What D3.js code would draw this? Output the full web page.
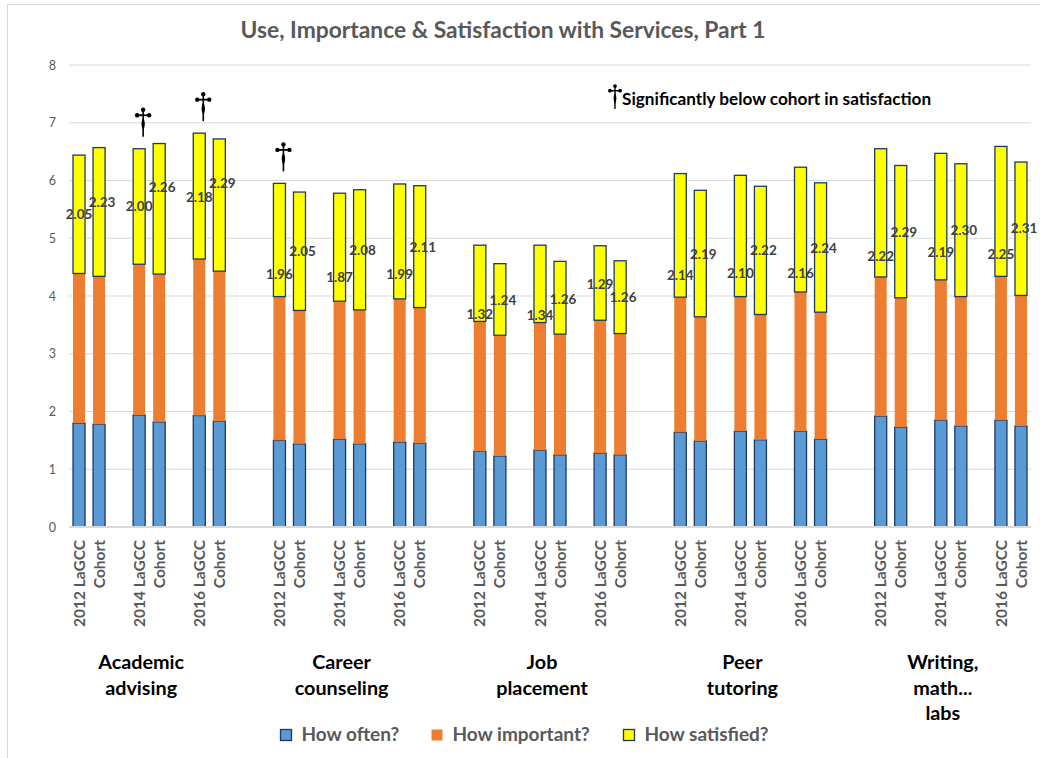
<!DOCTYPE html>
<html>
<head>
<meta charset="utf-8">
<script src="https://cdn.jsdelivr.net/npm/d3@7"></script>
<style>
  body { margin: 0; background: #fff; }
  text { font-family: Lato, "Open Sans", sans-serif; }
</style>
</head>
<body>
<div id="chart"></div>
<script>
const width = 1040;
const height = 758;

// categories
const groupLines = [
  ["Academic", "advising"],
  ["Career", "counseling"],
  ["Job", "placement"],
  ["Peer", "tutoring"],
  ["Writing,", "math...", "labs"],
];
const years = ["2012", "2014", "2016"];
const seriesNames = ["How often?", "How important?", "How satisfied?"];
const yTicks = [0, 1, 2, 3, 4, 5, 6, 7, 8];

// per bar, in order: 2012 LaGCC, Cohort, 2014 LaGCC, Cohort, 2016 LaGCC, Cohort
const howOften = [
  1.80, 1.78, 1.94, 1.82, 1.93, 1.83,
  1.50, 1.44, 1.52, 1.44, 1.47, 1.45,
  1.31, 1.23, 1.33, 1.25, 1.28, 1.25,
  1.64, 1.49, 1.66, 1.51, 1.66, 1.52,
  1.92, 1.73, 1.85, 1.75, 1.85, 1.75,
];
const howImportant = [
  2.59, 2.56, 2.61, 2.56, 2.71, 2.60,
  2.49, 2.31, 2.39, 2.32, 2.48, 2.35,
  2.25, 2.09, 2.21, 2.09, 2.30, 2.10,
  2.34, 2.15, 2.33, 2.17, 2.41, 2.20,
  2.41, 2.24, 2.43, 2.24, 2.49, 2.26,
];
const howSatisfied = [
  2.05, 2.23, 2.00, 2.26, 2.18, 2.29,
  1.96, 2.05, 1.87, 2.08, 1.99, 2.11,
  1.32, 1.24, 1.34, 1.26, 1.29, 1.26,
  2.14, 2.19, 2.10, 2.22, 2.16, 2.24,
  2.22, 2.29, 2.19, 2.30, 2.25, 2.31,
];
// where each satisfaction label sits on the value axis
const satLabelAt = [
  5.41, 5.63, 5.55, 5.88, 5.71, 5.95,
  4.38, 4.77, 4.33, 4.79, 4.38, 4.85,
  3.68, 3.93, 3.66, 3.95, 4.20, 3.97,
  4.36, 4.73, 4.39, 4.80, 4.39, 4.83,
  4.68, 5.10, 4.76, 5.14, 4.73, 5.17,
];
// bars significantly below cohort in satisfaction
const belowCohort = [2, 4, 6];

const colors = ["#5b9bd5", "#ed7d31", "#ffff00"];
const strokes = ["#1f3864", "none", "#1f3864"];

const rows = howOften.map((v, i) => ({
  i,
  group: Math.floor(i / 6),
  year: Math.floor((i % 6) / 2),
  cohort: i % 2 === 1,
  often: v,
  important: howImportant[i],
  satisfied: howSatisfied[i],
}));
rows.forEach((d) => {
  d.slot = d.group * 10 + d.year * 3 + (d.cohort ? 1 : 0);
  d.label = d.cohort ? "Cohort" : `${years[d.year]} LaGCC`;
});

const svg = d3
  .select("#chart")
  .append("svg")
  .attr("width", width)
  .attr("height", height);

// chart frame
svg
  .append("rect")
  .attr("x", 7.5)
  .attr("y", 4.5)
  .attr("width", 1040)
  .attr("height", 770)
  .attr("fill", "#fff")
  .attr("stroke", "#d9d9d9");

const x = d3
  .scaleBand()
  .domain(d3.range(48))
  .range([69, 1031])
  .paddingInner(0.4)
  .paddingOuter(0.2);

const y = d3.scaleLinear().domain([0, 8]).range([527, 65]);

// title
svg
  .append("text")
  .attr("x", 503)
  .attr("y", 37.5)
  .attr("text-anchor", "middle")
  .attr("font-size", 22.8)
  .attr("font-weight", "bold")
  .attr("fill", "#595959")
  .text("Use, Importance & Satisfaction with Services, Part 1");

// gridlines
svg
  .append("g")
  .selectAll("line")
  .data(yTicks.filter((t) => t > 0))
  .join("line")
  .attr("x1", 69)
  .attr("x2", 1031)
  .attr("y1", (d) => y(d))
  .attr("y2", (d) => y(d))
  .attr("stroke", "#d9d9d9")
  .attr("stroke-width", 1);

// y axis
const yAxis = svg
  .append("g")
  .attr("transform", "translate(69,0)")
  .call(d3.axisLeft(y).tickValues(yTicks).tickSize(0).tickPadding(13));
yAxis.select(".domain").remove();
yAxis
  .selectAll("text")
  .attr("font-size", 12.5)
  .attr("fill", "#595959")
  .style("font-family", "Lato, sans-serif");

// stacked bars
const stack = d3.stack().keys(["often", "important", "satisfied"]);
const layers = stack(rows);

svg
  .append("g")
  .selectAll("g")
  .data(layers)
  .join("g")
  .attr("fill", (d, k) => colors[k])
  .attr("stroke", (d, k) => strokes[k])
  .attr("stroke-width", 1.3)
  .selectAll("rect")
  .data((d) => d)
  .join("rect")
  .attr("x", (d) => x(d.data.slot))
  .attr("width", x.bandwidth())
  .attr("y", (d) => y(d[1]))
  .attr("height", (d) => y(d[0]) - y(d[1]));

// zero axis line
svg
  .append("line")
  .attr("x1", 69)
  .attr("x2", 1031)
  .attr("y1", y(0))
  .attr("y2", y(0))
  .attr("stroke", "#d9d9d9")
  .attr("stroke-width", 1.8);

// satisfaction labels
svg
  .append("g")
  .selectAll("text")
  .data(rows)
  .join("text")
  .attr("x", (d) => x(d.slot) + x.bandwidth() / 2 + (d.cohort ? 3 : 0))
  .attr("y", (d) => y(satLabelAt[d.i]))
  .attr("dy", "0.35em")
  .attr("text-anchor", "middle")
  .attr("font-size", 13.5)
  .attr("font-weight", "bold")
  .attr("fill", "#404040")
  .text((d) => d.satisfied.toFixed(2));

// dagger marker
function dagger(sel, s) {
  const g = sel.append("g").attr("transform", `scale(${s})`);
  g.append("line")
    .attr("x1", 0).attr("x2", 0).attr("y1", -27).attr("y2", 0)
    .attr("stroke", "#000").attr("stroke-width", 1.6);
  g.append("line")
    .attr("x1", -6).attr("x2", 6).attr("y1", -21.5).attr("y2", -21.5)
    .attr("stroke", "#000").attr("stroke-width", 1.8);
  g.selectAll("circle")
    .data([[0, -27], [-6, -21.5], [6, -21.5]])
    .join("circle")
    .attr("cx", (d) => d[0]).attr("cy", (d) => d[1]).attr("r", 2.2)
    .attr("fill", "#000");
  g.append("path")
    .attr("d", "M0,-19 Q3.4,-13 0,-6 Q-3.4,-13 0,-19 Z")
    .attr("fill", "#000");
}

belowCohort.forEach((i) => {
  const d = rows[i];
  const top = d.often + d.important + d.satisfied;
  svg
    .append("g")
    .attr("transform", `translate(${x(d.slot) + x.bandwidth() / 2 + 4},${y(top) - 12})`)
    .call(dagger, 1);
});

// note
const note = svg.append("g").attr("transform", "translate(615,109)");
note.call(dagger, 0.85);
note
  .append("text")
  .attr("x", 7)
  .attr("y", -4)
  .attr("font-size", 17.2)
  .attr("font-weight", "bold")
  .attr("fill", "#000")
  .text("Significantly below cohort in satisfaction");

// bar tick labels
svg
  .append("g")
  .selectAll("text")
  .data(rows)
  .join("text")
  .attr("transform", (d) => `translate(${x(d.slot) + x.bandwidth() / 2},540) rotate(-90)`)
  .attr("dy", "0.36em")
  .attr("text-anchor", "end")
  .attr("font-size", 15.5)
  .attr("font-weight", "bold")
  .attr("fill", "#595959")
  .text((d) => d.label);

// group labels
const groupG = svg
  .append("g")
  .selectAll("text")
  .data(groupLines)
  .join("text")
  .attr("text-anchor", "middle")
  .attr("font-size", 19.8)
  .attr("font-weight", "bold")
  .attr("fill", "#000");
groupG
  .selectAll("tspan")
  .data((d, gi) => d.map((t) => ({ t, gi })))
  .join("tspan")
  .attr("x", (d) => (x(d.gi * 10) + x(d.gi * 10 + 7) + x.bandwidth()) / 2 - 8)
  .attr("y", (d, k) => 669 + k * 25.5)
  .text((d) => d.t);

// legend
const legendX = [280, 431, 623];
const legend = svg
  .append("g")
  .selectAll("g")
  .data(seriesNames)
  .join("g")
  .attr("transform", (d, k) => `translate(${legendX[k]},729)`);
legend
  .append("rect")
  .attr("x", 0.5)
  .attr("y", 0.5)
  .attr("width", 11)
  .attr("height", 11)
  .attr("fill", (d, k) => colors[k])
  .attr("stroke", (d, k) => strokes[k])
  .attr("stroke-width", 1.3);
legend
  .append("text")
  .attr("x", 21.5)
  .attr("y", 12)
  .attr("font-size", 19)
  .attr("font-weight", "bold")
  .attr("fill", "#595959")
  .text((d) => d);
</script>
</body>
</html>
